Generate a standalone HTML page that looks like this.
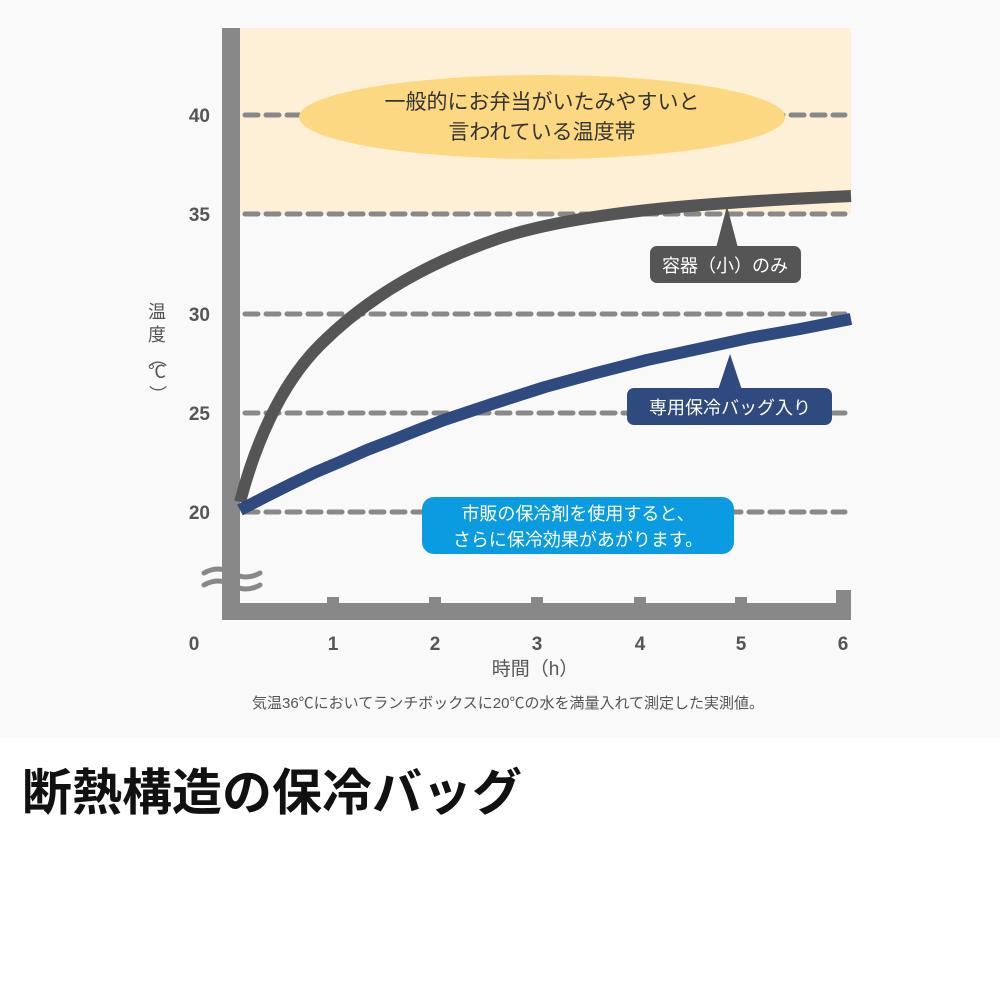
<!DOCTYPE html>
<html><head><meta charset="utf-8"><style>
body{margin:0;width:1000px;height:1000px;background:#fff;overflow:hidden;font-family:"Liberation Sans","Noto Sans CJK JP",sans-serif}
svg text{font-family:"Liberation Sans","Noto Sans CJK JP",sans-serif}
</style></head><body>
<svg width="1000" height="1000" viewBox="0 0 1000 1000">
<rect x="0" y="0" width="1000" height="738" fill="#f9f9f9"/>
<rect x="240" y="28" width="611" height="186" fill="#fdf0d6"/>
<g stroke="#888" stroke-width="5" stroke-dasharray="13 8" stroke-linecap="round">
<line x1="245" y1="115" x2="845" y2="115"/>
<line x1="245" y1="214" x2="845" y2="214"/>
<line x1="245" y1="314" x2="845" y2="314"/>
<line x1="245" y1="413" x2="845" y2="413"/>
<line x1="245" y1="512" x2="845" y2="512"/>
</g>
<ellipse cx="542" cy="117" rx="243" ry="42" fill="#fcd882"/>
<text x="542" y="109" font-size="21" text-anchor="middle" fill="#333">一般的にお弁当がいたみやすいと</text>
<text x="542" y="139" font-size="21" text-anchor="middle" fill="#333">言われている温度帯</text>
<rect x="222" y="28" width="18" height="592" fill="#888"/>
<rect x="222" y="603" width="629" height="17" fill="#888"/>
<rect x="836" y="590" width="15" height="30" fill="#888"/>
<g fill="#888"><rect x="327" y="597" width="12" height="8"/><rect x="429" y="597" width="12" height="8"/><rect x="531" y="597" width="12" height="8"/><rect x="634" y="597" width="12" height="8"/><rect x="735" y="597" width="12" height="8"/></g>
<g stroke="#888" stroke-width="5" fill="none" stroke-linecap="round">
<path d="M204 573 q14 -8 28 0 t28 0"/><path d="M204 585 q14 -8 28 0 t28 0"/>
</g>
<path d="M240,502 C255,445 280,385 320,345 C370,295 430,262 500,238 C580,212 700,203 851,196" stroke="#555" stroke-width="12" fill="none"/>
<polyline points="240,510 265,497 291,484 316,472 342,461 367,450 393,440 418,430 444,420 495,403 545,387 596,373 647,360 698,349 749,338 800,329 851,319" stroke="#2e4a7e" stroke-width="12" fill="none" stroke-linejoin="round"/>
<g fill="#555"><rect x="650" y="246" width="151" height="37" rx="7"/><path d="M716 248 L727 206 L738 248Z"/></g>
<text x="725" y="272" font-size="18" text-anchor="middle" fill="#fff">容器（小）のみ</text>
<g fill="#2e4a7e"><rect x="627" y="388" width="205" height="37" rx="7"/><path d="M718 390 L730 354 L742 390Z"/></g>
<text x="730" y="414" font-size="18" text-anchor="middle" fill="#fff">専用保冷バッグ入り</text>
<rect x="422" y="497" width="312" height="57" rx="12" fill="#0a9be0"/>
<text x="578" y="520" font-size="18" text-anchor="middle" fill="#fff">市販の保冷剤を使用すると、</text>
<text x="578" y="546" font-size="18" text-anchor="middle" fill="#fff">さらに保冷効果があがります。</text>
<g font-size="19" font-weight="bold" fill="#555" text-anchor="end">
<text x="210" y="122">40</text><text x="210" y="221">35</text><text x="210" y="321">30</text><text x="210" y="420">25</text><text x="210" y="519">20</text>
</g>
<g font-size="19" font-weight="bold" fill="#555" text-anchor="middle">
<text x="194" y="650">0</text><text x="333" y="650">1</text><text x="435" y="650">2</text><text x="537" y="650">3</text><text x="640" y="650">4</text><text x="741" y="650">5</text><text x="843" y="650">6</text>
</g>
<g font-size="18" fill="#555" text-anchor="middle">
<text x="157" y="318">温</text><text x="157" y="341">度</text><text x="157" y="364" transform="rotate(90 157 358)">（</text><text x="157" y="378">℃</text><text x="157" y="400" transform="rotate(90 157 394)">）</text>
</g>
<text x="535" y="675" font-size="19" text-anchor="middle" fill="#555">時間（h）</text>
<text x="508" y="708" font-size="15" text-anchor="middle" fill="#555">気温36℃においてランチボックスに20℃の水を満量入れて測定した実測値。</text>
<text x="22" y="810" font-size="50" font-weight="bold" fill="#111">断熱構造の保冷バッグ</text>
</svg>
</body></html>
